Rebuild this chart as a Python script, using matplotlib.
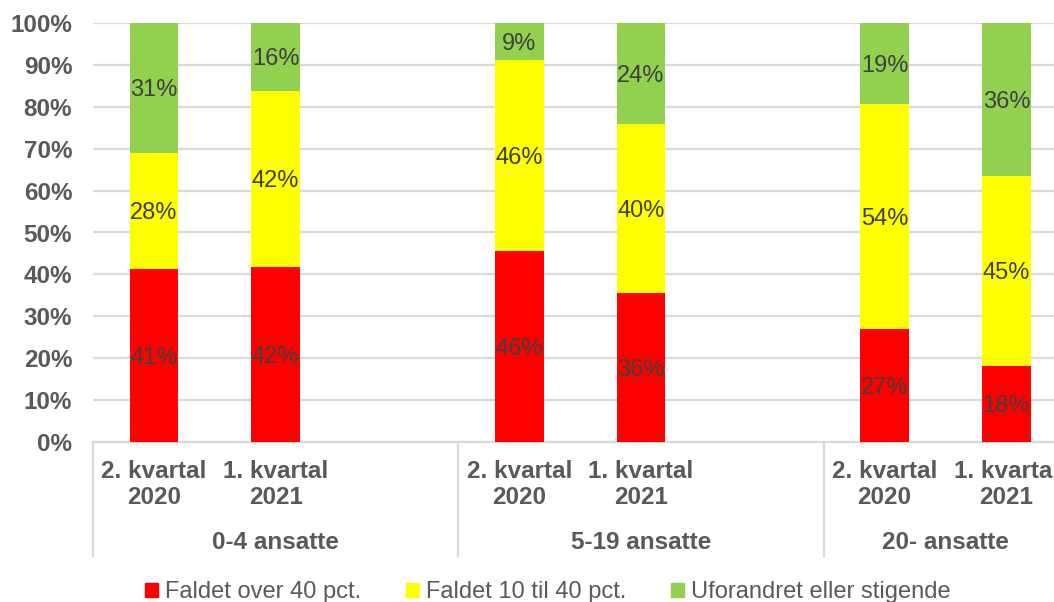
import numpy as np
import matplotlib
matplotlib.use('Agg')
import matplotlib.pyplot as plt
from matplotlib.patches import Rectangle

plt.rcParams['font.family'] = ['Liberation Sans', 'DejaVu Sans']

# data (andele i pct.)
groups = ['0-4 ansatte', '5-19 ansatte', '20- ansatte']
periods = ['2. kvartal\n2020', '1. kvartal\n2021']
series = ['Faldet over 40 pct.', 'Faldet 10 til 40 pct.', 'Uforandret eller stigende']
faldet_over_40 = [41.3, 41.8, 45.6, 35.6, 27.0, 18.2]
faldet_10_40 = [27.7, 42.0, 45.6, 40.4, 53.7, 45.4]
uforandret = [31.0, 16.2, 8.8, 24.0, 19.3, 36.4]
colors = ['#FF0000', '#FFFF00', '#92D050']

# each group has 3 slots, the third one is empty
x = np.array([g * 3 + p for g in range(len(groups)) for p in range(len(periods))])

fig = plt.figure(figsize=(10.54, 6.02), dpi=100)
ax = fig.add_axes([93 / 1054, 160 / 602, 1096 / 1054, 419 / 602])

grid_c = '#D9D9D9'
bottom = np.zeros(len(x))
for vals, col in zip([faldet_over_40, faldet_10_40, uforandret], colors):
    vals = np.array(vals)
    ax.bar(x, vals, 0.4, bottom=bottom, color=col, zorder=3)
    for xi, b, v in zip(x, bottom, vals):
        ax.text(xi, b + v / 2, '%.0f%%' % v, ha='center', va='center_baseline',
                fontsize=17, color='#404040', zorder=4)
    bottom += vals

ax.set_xlim(-0.5, 8.5)
ax.set_ylim(0, 100)
ax.set_yticks(np.arange(0, 101, 10))
ax.set_yticklabels(['%d%%' % v for v in range(0, 101, 10)])
ax.yaxis.grid(True, color=grid_c, linewidth=1.6, zorder=0)
ax.set_axisbelow(True)
for s in ['top', 'right', 'left']:
    ax.spines[s].set_visible(False)
ax.spines['bottom'].set_color(grid_c)
ax.spines['bottom'].set_linewidth(1.6)
ax.tick_params(axis='y', length=0, pad=15, labelsize=17.5, labelcolor='#595959')
ax.tick_params(axis='x', length=0, pad=13, labelsize=17.5, labelcolor='#595959')
for lab in ax.get_yticklabels():
    lab.set_fontweight('bold')

ax.set_xticks(x)
ax.set_xticklabels(periods * len(groups), fontweight='bold', linespacing=1.15)

# group labels and separators under the axis
# the last group is cut by the figure edge, its label sits in the visible part
label_x = [1, 4, 6.5]
for lx, name in zip(label_x, groups):
    ax.text(lx, -0.239, name, transform=ax.get_xaxis_transform(),
            ha='center', va='center', fontsize=17.5, fontweight='bold', color='#595959')
for g in range(len(groups) + 1):
    ax.plot([g * 3 - 0.5] * 2, [0, -0.272], transform=ax.get_xaxis_transform(),
            color=grid_c, linewidth=1.6, clip_on=False)

handles = [Rectangle((0, 0), 1, 1, color=c) for c in colors]
fig.legend(handles, series, loc='center', bbox_to_anchor=(548 / 1054, 1 - 592 / 602),
           ncol=3, frameon=False, fontsize=17, labelcolor='#595959',
           handlelength=0.55, handleheight=0.55, handletextpad=0.3, columnspacing=1.9)

fig.savefig('out.png', dpi=100)
